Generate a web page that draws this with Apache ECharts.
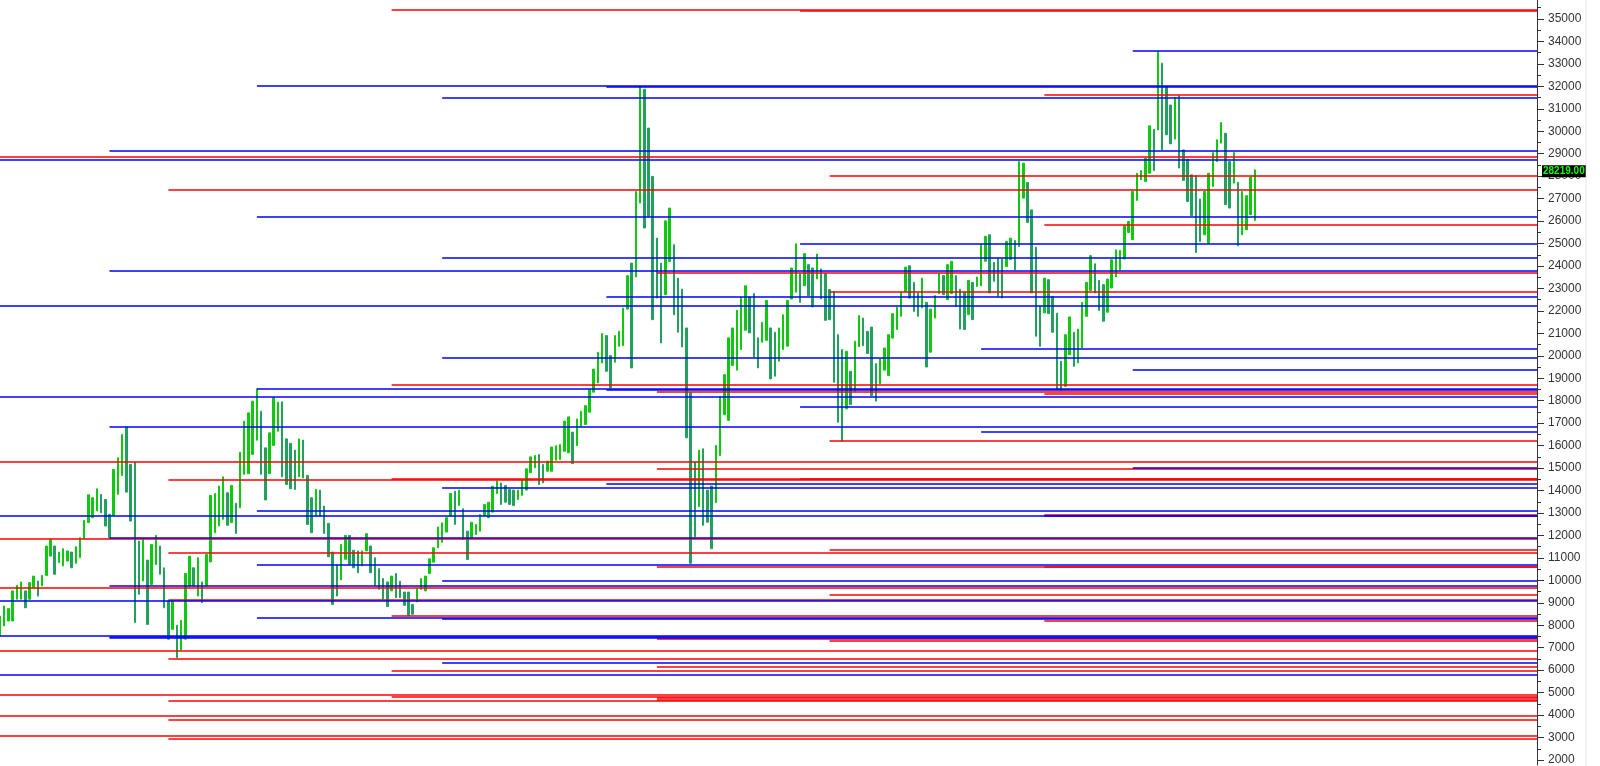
<!DOCTYPE html>
<html>
<head>
<meta charset="utf-8">
<script src="https://cdn.jsdelivr.net/npm/echarts@6/dist/echarts.min.js"></script>
<style>
    html, body { margin: 0; padding: 0; background: #fff; }
    #chart { width: 1600px; height: 766px; }
</style>
</head>
<body>
<div id="chart"></div>
<script>
// bar highs / lows, oldest first
var highs = [
    8410, 8860, 8740, 9530, 9780, 9930, 9530, 9900, 10190, 9970,
    10220, 11530, 11820, 11530, 11260, 11410, 11310, 11260, 11500, 11900,
    12670, 13810, 13680, 14080, 13830, 13600, 12940, 14940, 15460, 16500,
    16820, 15160, 15240, 11750, 11820, 10900, 11600, 12000, 11530, 10560,
    9080, 9080, 8000, 8220, 10310, 11080, 10560, 11010, 9930, 11150,
    13780, 13870, 14200, 14610, 13900, 14230, 13430, 15710, 17090, 17460,
    17980, 18530, 17530, 15900, 16570, 18130, 17940, 17950, 16300, 16100,
    15800, 16300, 16250, 14670, 13680, 14050, 14020, 13310, 12540, 11260,
    10670, 11600, 12000, 12000, 11340, 11310, 11310, 12080, 11530, 11010,
    10520, 10080, 9930, 10190, 10310, 9960, 9480, 9480, 8930, 9630,
    10080, 10190, 10960, 11450, 12380, 12560, 12790, 13870, 13970, 14020,
    13190, 12190, 12590, 12490, 12930, 13380, 13480, 14190, 14420, 14340,
    14220, 14050, 14020, 14020, 14460, 14970, 15500, 15560, 15600, 15160,
    15310, 15940, 16000, 16050, 17090, 17280, 16600, 17190, 17530, 17780,
    18490, 19410, 20160, 20990, 20900, 20010, 20900, 21090, 22130, 23570,
    24130, 27320, 31990, 31870, 30140, 27990, 25240, 24130, 26010, 26580,
    24950, 23460, 22970, 21240, 18350, 15260, 15800, 15860, 14020, 14200,
    16010, 18200, 19160, 20800, 21240, 22030, 22620, 23120, 22620, 22770,
    20800, 21490, 22470, 21240, 21050, 21240, 21830, 22470, 23910, 24990,
    23660, 24550, 24060, 23910, 24530, 23870, 23660, 22950, 22870, 20940,
    20280, 20200, 19310, 20650, 21790, 21680, 21090, 21280, 19650, 19860,
    20350, 20940, 21880, 22170, 22830, 23950, 24010, 23270, 22800, 23460,
    22380, 22080, 22680, 23660, 23570, 24060, 24210, 23570, 22970, 22830,
    23360, 23270, 23510, 24950, 25320, 25390, 24160, 24350, 24310, 25100,
    25240, 25140, 28650, 28580, 27720, 26500, 24840, 22200, 23460, 23390,
    22650, 21900, 19760, 20940, 21730, 21050, 21190, 22380, 23270, 24460,
    24100, 23360, 23170, 23420, 24280, 24720, 24690, 25790, 25980, 27320,
    28130, 28250, 28800, 30240, 30090, 33550, 33030, 31990, 31170, 31520,
    31580, 29170, 28760, 28060, 28020, 26980, 27320, 28130, 29050, 29620,
    30390, 29910, 28650, 29050, 27720, 27320, 27130, 27960, 28280
];
var lows = [
    7520, 7970, 8190, 8190, 9160, 9160, 8780, 9160, 9670, 9300,
    9750, 10220, 11080, 10270, 10790, 10640, 10860, 10560, 10760, 11010,
    11850, 12570, 12790, 13090, 13010, 12420, 11900, 12890, 13830, 14670,
    13930, 12640, 8120, 9380, 9970, 8040, 9820, 10710, 10270, 8780,
    7380, 7820, 6560, 6900, 7380, 9750, 9750, 9300, 9010, 9750,
    10820, 12120, 12420, 12720, 12450, 12570, 12090, 13230, 14720, 14750,
    15610, 16240, 14720, 13580, 14760, 16010, 16640, 14610, 14270, 14080,
    14050, 14610, 14560, 12490, 12120, 12860, 12860, 12090, 11050, 8930,
    9300, 10020, 10940, 10710, 10560, 10340, 10640, 11310, 10340, 9780,
    9600, 9160, 8830, 9530, 9230, 9230, 8890, 8440, 8490, 9040,
    9600, 9530, 10300, 10810, 11450, 11700, 12150, 12860, 12490, 13330,
    11820, 10930, 11900, 12040, 12190, 12890, 12790, 13040, 13870, 13380,
    13480, 13380, 13330, 13600, 13780, 14020, 14790, 15010, 14270, 14340,
    14860, 14860, 15350, 15380, 15750, 15680, 15200, 16000, 16860, 16940,
    17490, 18380, 18790, 19680, 19310, 18570, 19710, 20420, 20450, 22080,
    19460, 23510, 26800, 25690, 26210, 21610, 22570, 20570, 22720, 24200,
    21830, 21050, 20390, 16350, 10760, 11940, 13280, 12450, 12590, 11410,
    13460, 15560, 17380, 17120, 19570, 19360, 20280, 21140, 21020, 19950,
    19460, 20600, 20690, 18970, 19090, 19760, 20280, 20430, 22530, 22830,
    22380, 23120, 22680, 22180, 23420, 22530, 21580, 21610, 18820, 17040,
    16200, 17640, 17830, 18420, 20400, 20450, 20100, 18230, 17980, 18760,
    19360, 19120, 20790, 21170, 21760, 22870, 22570, 21980, 21760, 22130,
    19500, 20160, 21680, 22770, 22720, 22500, 22770, 22200, 21190, 21170,
    21830, 21610, 23090, 23120, 24210, 22800, 23320, 22650, 22570, 23980,
    24280, 23830, 24870, 27020, 25940, 22800, 20870, 20420, 21910, 21880,
    21050, 18520, 18470, 18640, 20050, 19530, 19680, 20350, 21760, 22910,
    22800, 22020, 21540, 21940, 23020, 23510, 23830, 24310, 25490, 25170,
    26920, 27840, 27760, 28130, 28250, 30060, 29170, 29840, 29440, 29650,
    28360, 27810, 26870, 26240, 24600, 25090, 25390, 25020, 27540, 28650,
    29470, 26730, 26580, 27690, 24900, 25390, 25610, 26280, 26030
];
var lastClose = 28219;

// horizontal levels: [start bar index, price]
var redLines = [
    [0, 28860], [0, 15270], [0, 11840], [0, 9660], [0, 6860], [0, 4910], [0, 3960], [0, 3090],
    [40, 27390], [40, 14500], [40, 11210], [40, 9140], [40, 6520], [40, 4640], [40, 3810], [40, 2950],
    [93, 35400], [93, 18720], [93, 14540], [93, 8420], [93, 5970], [93, 4830],
    [156, 23720], [156, 18380], [156, 14990], [156, 10620], [156, 7400], [156, 6160], [156, 4760], [156, 4700],
    [190, 35370], [190, 14520],
    [197, 28020], [197, 22860], [197, 16200], [197, 11350], [197, 9380], [197, 7310],
    [248, 31620], [248, 25840], [248, 18290], [248, 12940], [248, 10590], [248, 8200]
];
var blueLines = [
    [0, 28710], [0, 22230], [0, 18180], [0, 12860], [0, 9080], [0, 7520], [0, 5780],
    [26, 29120], [26, 23800], [26, 16830], [26, 11910], [26, 9750], [26, 7470], [26, 7440],
    [61, 32020], [61, 26180], [61, 18550], [61, 13090], [61, 10710], [61, 8340],
    [105, 31470], [105, 24370], [105, 19930], [105, 14110], [105, 10000], [105, 8290], [105, 6340],
    [144, 32000], [144, 22650], [144, 18500], [144, 14310],
    [190, 25000], [190, 17710],
    [233, 20310], [233, 16600],
    [248, 12870],
    [269, 33590], [269, 19390], [269, 15020]
];

var tickValues = [
    2000, 3000, 4000, 5000, 6000, 7000, 8000, 9000, 10000, 11000, 12000,
    13000, 14000, 15000, 16000, 17000, 18000, 19000, 20000, 21000, 22000,
    23000, 24000, 25000, 26000, 27000, 28000, 29000, 30000, 31000, 32000,
    33000, 34000, 35000
];

var slotCount = 366;
var categories = [];
for (var i = 0; i < slotCount; i++) {
    categories.push(String(i));
}
var lastSlot = slotCount - 1;

// body spans low..high, colour by direction against previous bar
var candles = [];
for (var i = 0; i < highs.length; i++) {
    var up = i === 0 || (highs[i] + lows[i]) >= (highs[i - 1] + lows[i - 1]);
    if (up) {
        candles.push([lows[i], highs[i], lows[i], highs[i]]);
    } else {
        candles.push([highs[i], lows[i], lows[i], highs[i]]);
    }
}

var minorTicks = tickValues.map(function (v) { return v + 500; });

var levelData = [];
redLines.forEach(function (l) {
    levelData.push([{coord: [l[0], l[1]], lineStyle: {color: '#ff0000'}}, {coord: [lastSlot, l[1]]}]);
});
blueLines.forEach(function (l) {
    levelData.push([{coord: [l[0], l[1]], lineStyle: {color: '#0000ff'}}, {coord: [lastSlot, l[1]]}]);
});

var yMin = 1775, yMax = 35845;

var myChart = echarts.init(document.getElementById('chart'));
var option = {
    animation: false,
    backgroundColor: '#ffffff',
    grid: {left: 0, right: 63, top: 0, bottom: 0},
    xAxis: {
        type: 'category',
        data: categories,
        boundaryGap: false,
        show: false
    },
    yAxis: [
        {
            type: 'value',
            position: 'right',
            min: yMin,
            max: yMax,
            splitLine: {show: false},
            axisLine: {show: true, lineStyle: {color: '#333333', width: 1}},
            axisTick: {show: true, customValues: tickValues, length: 7, lineStyle: {color: '#333333'}},
            axisLabel: {
                customValues: tickValues,
                formatter: function (v) { return String(v); },
                margin: 11,
                color: '#333333',
                fontSize: 12,
                fontFamily: 'Liberation Sans, Arial, sans-serif'
            }
        },
        {
            type: 'value',
            position: 'right',
            min: yMin,
            max: yMax,
            splitLine: {show: false},
            axisLine: {show: false},
            axisTick: {show: true, customValues: minorTicks, length: 4, lineStyle: {color: '#333333'}},
            axisLabel: {show: false}
        },
        {
            type: 'value',
            position: 'right',
            min: yMin,
            max: yMax,
            splitLine: {show: false},
            axisLine: {show: false},
            axisTick: {show: false},
            axisLabel: {
                customValues: [lastClose],
                formatter: function (v) { return v.toFixed(2); },
                margin: 5,
                color: '#00ff00',
                backgroundColor: '#000000',
                padding: [1, 1, 1, 1],
                fontSize: 10,
                fontWeight: 'bold',
                fontFamily: 'Liberation Sans, Arial, sans-serif'
            }
        }
    ],
    series: [
        {
            type: 'candlestick',
            data: candles,
            barWidth: 2,
            itemStyle: {
                color: '#10c810',
                color0: '#22a05e',
                borderColor: '#10c810',
                borderColor0: '#22a05e',
                borderWidth: 1
            },
            markLine: {
                silent: true,
                symbol: ['none', 'none'],
                label: {show: false},
                lineStyle: {type: 'solid', width: 1.5},
                emphasis: {disabled: true},
                data: levelData
            }
        }
    ],
    graphic: [
        {
            type: 'line',
            shape: {x1: 1586, y1: 0, x2: 1586, y2: 766},
            style: {stroke: '#e6e6e6', lineWidth: 1},
            silent: true
        }
    ]
};
myChart.setOption(option);
</script>
</body>
</html>
